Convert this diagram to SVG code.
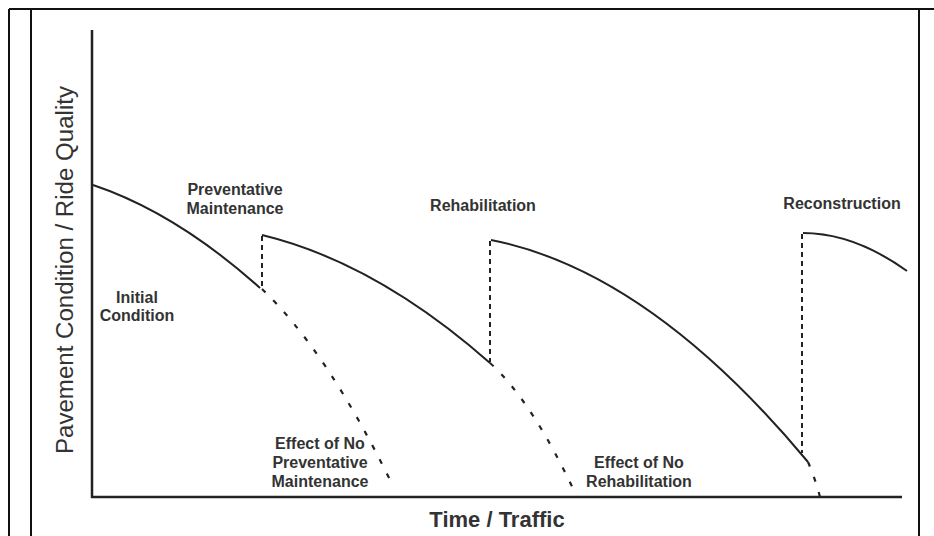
<svg xmlns="http://www.w3.org/2000/svg" width="934" height="536" viewBox="0 0 934 536">
<style>
.frame{stroke:#111;stroke-width:2;fill:none}
.axis{stroke:#222;stroke-width:2.5;fill:none}
.solid{stroke:#222;stroke-width:2;fill:none}
.vdash{stroke:#222;stroke-width:2;fill:none;stroke-dasharray:5 4}
.cdash{stroke:#222;stroke-width:2.2;fill:none;stroke-dasharray:5 11}
.lbl{font-family:"Liberation Sans",Arial,sans-serif;font-weight:bold;font-size:16px;fill:#333;text-anchor:middle}
.ax{font-family:"Liberation Sans",Arial,sans-serif;fill:#333;text-anchor:middle}
</style>
<rect width="934" height="536" fill="#fff"/>
<g id="frame">
<line class="frame" x1="9" y1="9" x2="934" y2="9"/>
<line class="frame" x1="9" y1="9" x2="9" y2="536"/>
<line class="frame" x1="31" y1="9" x2="31" y2="536" stroke="#444"/>
<line class="frame" x1="919" y1="9" x2="919" y2="536" stroke-width="2.5"/>
</g>
<g id="axes">
<line class="axis" x1="92" y1="30" x2="92" y2="498"/>
<line class="axis" x1="91" y1="497" x2="902" y2="497"/>
<text class="ax" font-size="23" transform="translate(73,270) rotate(-90)" textLength="368" lengthAdjust="spacingAndGlyphs">Pavement Condition / Ride Quality</text>
<text class="ax" font-size="22" font-weight="bold" x="497" y="527">Time / Traffic</text>
</g>
<g id="connectors">
<path class="solid" d="M93,185 Q176.5,213 260,288"/>
<path class="solid" d="M262,235 Q376,262.5 490,363"/>
<path class="solid" d="M491,240 Q649,271 808,462"/>
<path class="solid" d="M803,233 Q854,233 907,271"/>
<line class="vdash" x1="262" y1="236" x2="262" y2="289"/>
<line class="vdash" x1="490" y1="241" x2="490" y2="362"/>
<line class="vdash" x1="802" y1="234" x2="802" y2="453"/>
<path class="cdash" d="M262,289 Q327,351 392,484"/>
<path class="cdash" d="M490,363 Q532.4,401.2 577,497"/>
<path class="cdash" d="M808,462 Q815,478 820,497"/>
</g>
<g id="label-initial">
<text class="lbl" x="137" y="303">Initial</text>
<text class="lbl" x="137" y="321">Condition</text>
</g>
<g id="label-pm">
<text class="lbl" x="235" y="195">Preventative</text>
<text class="lbl" x="235" y="214">Maintenance</text>
</g>
<g id="label-rehab">
<text class="lbl" x="483" y="211">Rehabilitation</text>
</g>
<g id="label-recon">
<text class="lbl" x="842" y="209">Reconstruction</text>
</g>
<g id="label-nopm">
<text class="lbl" x="320" y="449">Effect of No</text>
<text class="lbl" x="320" y="468">Preventative</text>
<text class="lbl" x="320" y="487">Maintenance</text>
</g>
<g id="label-norehab">
<text class="lbl" x="639" y="468">Effect of No</text>
<text class="lbl" x="639" y="487">Rehabilitation</text>
</g>
</svg>
